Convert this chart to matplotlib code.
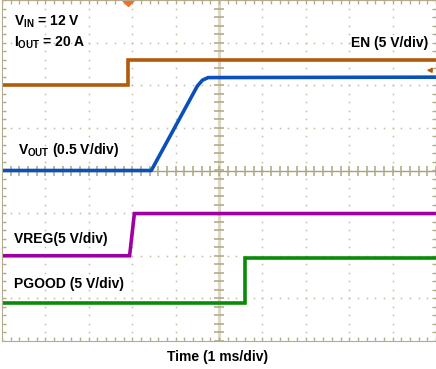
import matplotlib.pyplot as plt
import numpy as np

plt.rcParams['font.family'] = ['Liberation Sans', 'DejaVu Sans']
plt.rcParams['mathtext.default'] = 'regular'

# time in divisions (1 ms/div), levels in divisions
en_t = [0, 2.91, 2.91, 10]
en_v = [2.0, 2.0, 2.59, 2.59]

vout_t = [0, 3.44, 4.5, 4.62, 4.75, 10]
vout_v = [0.0, 0.0, 1.98, 2.12, 2.18, 2.19]

vreg_t = [0, 2.94, 3.05, 10]
vreg_v = [-2.0, -2.0, -1.01, -1.01]

pgood_t = [0, 5.6, 5.6, 10]
pgood_v = [-3.1, -3.1, -2.05, -2.05]

grid_c = '#b4ab8c'
light_c = '#ddd6c2'

fig = plt.figure(figsize=(4.36, 3.69), dpi=100)
ax = fig.add_axes([2/436, 28/369, 1 - 2/436, 341/369])
ax.set_xlim(0, 10)
ax.set_ylim(-4, 4)
ax.set_xticks([])
ax.set_yticks([])
for s in ax.spines.values():
    s.set_color(grid_c)
    s.set_linewidth(0.8)

# dotted graticule
gx, gy = np.meshgrid(np.arange(1, 10), np.arange(-4, 4.01, 0.2))
ax.plot(gx.ravel(), gy.ravel(), ls='none', marker='s', ms=1.1, color='#c4bca0', mec='none')
gx, gy = np.meshgrid(np.arange(0, 10.01, 0.2), np.arange(-3, 4))
ax.plot(gx.ravel(), gy.ravel(), ls='none', marker='s', ms=1.1, color='#c4bca0', mec='none')

# center axes with ticks
ax.axvline(5, color=light_c, lw=2.2)
ax.axhline(0, color='#a89f7c', lw=1.0)
mt = np.arange(0, 10.01, 0.2)
my = np.arange(-4, 4.01, 0.2)
ax.plot(mt, np.zeros_like(mt), ls='none', marker='|', ms=7, mew=1.2, color=grid_c)
ax.plot(np.full_like(my, 5), my, ls='none', marker='_', ms=7, mew=1.2, color=grid_c)
ax.plot(mt, np.full_like(mt, -4), ls='none', marker='|', ms=6, color=grid_c)
ax.plot(mt, np.full_like(mt, 4), ls='none', marker='|', ms=6, color=grid_c)
ax.plot(np.full_like(my, 0), my, ls='none', marker='_', ms=6, color=grid_c)
ax.plot(np.full_like(my, 10), my, ls='none', marker='_', ms=6, color=grid_c)

# traces
ax.plot(en_t, en_v, color='#b05a0c', lw=2.6, solid_joinstyle='miter')
ax.plot(vout_t, vout_v, color='#0a50b8', lw=2.6)
ax.plot(vreg_t, vreg_v, color='#a000a0', lw=2.6, solid_joinstyle='miter')
ax.plot(pgood_t, pgood_v, color='#0a8a0a', lw=2.6, solid_joinstyle='miter')

# markers
ax.plot([2.91], [4], marker='D', ms=6, color='#f07030', clip_on=False)
ax.annotate('', xy=(9.72, 2.35), xytext=(9.98, 2.35),
            arrowprops=dict(arrowstyle='-|>', color='#b05a0c', lw=1, mutation_scale=7))

fs = 10
ax.text(0.27, 3.48, 'V$_{IN}$ = 12 V', fontsize=fs, fontweight='bold', va='center')
ax.text(0.27, 3.0, 'I$_{OUT}$ = 20 A', fontsize=fs, fontweight='bold', va='center')
ax.text(9.82, 2.99, 'EN (5 V/div)', fontsize=fs, fontweight='bold', va='center', ha='right')
ax.text(0.36, 0.47, 'V$_{OUT}$ (0.5 V/div)', fontsize=fs, fontweight='bold', va='center')
ax.text(0.27, -1.6, 'VREG(5 V/div)', fontsize=fs, fontweight='bold', va='center')
ax.text(0.27, -2.66, 'PGOOD (5 V/div)', fontsize=fs, fontweight='bold', va='center')
fig.text(218/436, 1 - 357/369, 'Time (1 ms/div)', fontsize=fs, fontweight='bold',
         ha='center', va='center')

fig.savefig('out.png', dpi=100)
